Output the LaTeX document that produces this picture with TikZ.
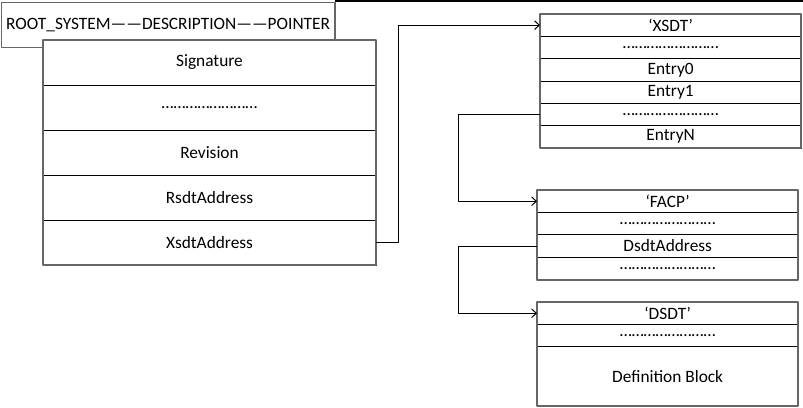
\documentclass[tikz,border=0pt]{standalone}
\usepackage{fontspec}
\setmainfont{Carlito}
\usetikzlibrary{positioning,arrows.meta}
\newcommand\dotrow{……………………}
\tikzset{
  field/.style={draw, line width=0.75pt, fill=white, inner sep=0pt, outer sep=0pt, align=center},
  rsdp/.style={field, minimum width=249.75pt, minimum height=33.75pt},
  tbl/.style={field, minimum width=196pt, minimum height=16.8pt},
  frame/.style={draw=black!60, line width=1.4pt},
  link/.style={line width=0.75pt, -{Straight Barb[length=3.5pt,width=6.5pt]}}
}
\begin{document}
\begin{tikzpicture}[x=0.75pt, y=-0.75pt, font=\fontsize{13}{15}\selectfont, line join=round]
  \useasboundingbox (0,0) rectangle (803,407);
  \draw[line width=1.5pt] (335,1) -- (803,1);
  % header
  \node[draw=black!60, line width=1.4pt, inner sep=0pt, outer sep=0pt, minimum width=250pt, minimum height=33.75pt, anchor=north west] (hdr) at (1.5,2.5) {ROOT\_SYSTEM——DESCRIPTION——POINTER};
  % root system description pointer
  \node[rsdp, anchor=north west] (sig) at (43,40) {Signature};
  \node[rsdp, below=0pt of sig] (rdots) {\dotrow};
  \node[rsdp, below=0pt of rdots] (rev) {Revision};
  \node[rsdp, below=0pt of rev] (raddr) {RsdtAddress};
  \node[rsdp, below=0pt of raddr] (xaddr) {XsdtAddress};
  \draw[frame] (sig.north west) rectangle (xaddr.south east);
  % xsdt
  \node[tbl, minimum height=16.75pt, anchor=north west] (xsig) at (540,14) {‘XSDT’};
  \node[tbl, minimum height=16.75pt, below=0pt of xsig] (xd1) {\dotrow};
  \node[tbl, minimum height=16.75pt, below=0pt of xd1] (e0) {Entry0};
  \node[tbl, minimum height=16.75pt, below=0pt of e0] (e1) {Entry1};
  \node[tbl, minimum height=16.75pt, below=0pt of e1] (xd2) {\dotrow};
  \node[tbl, minimum height=16.75pt, below=0pt of xd2] (en) {EntryN};
  \draw[frame] (xsig.north west) rectangle (en.south east);
  % facp
  \node[tbl, anchor=north west] (fsig) at (537,190) {‘FACP’};
  \node[tbl, below=0pt of fsig] (fd1) {\dotrow};
  \node[tbl, below=0pt of fd1] (faddr) {DsdtAddress};
  \node[tbl, below=0pt of faddr] (fd2) {\dotrow};
  \draw[frame] (fsig.north west) rectangle (fd2.south east);
  % dsdt
  \node[tbl, anchor=north west] (dsig) at (537,302) {‘DSDT’};
  \node[tbl, below=0pt of dsig] (dd1) {\dotrow};
  \node[tbl, minimum height=44.25pt, below=0pt of dd1] (dblk) {Definition Block};
  \draw[frame] (dsig.north west) rectangle (dblk.south east);
  % pointers
  \draw[link] (xaddr.east) -- ++(22,0) |- (xsig.west);
  \draw[link] (xd2.west) -- ++(-82,0) |- (fsig.west);
  \draw[link] (faddr.west) -- ++(-79,0) |- (dsig.west);
\end{tikzpicture}
\end{document}
